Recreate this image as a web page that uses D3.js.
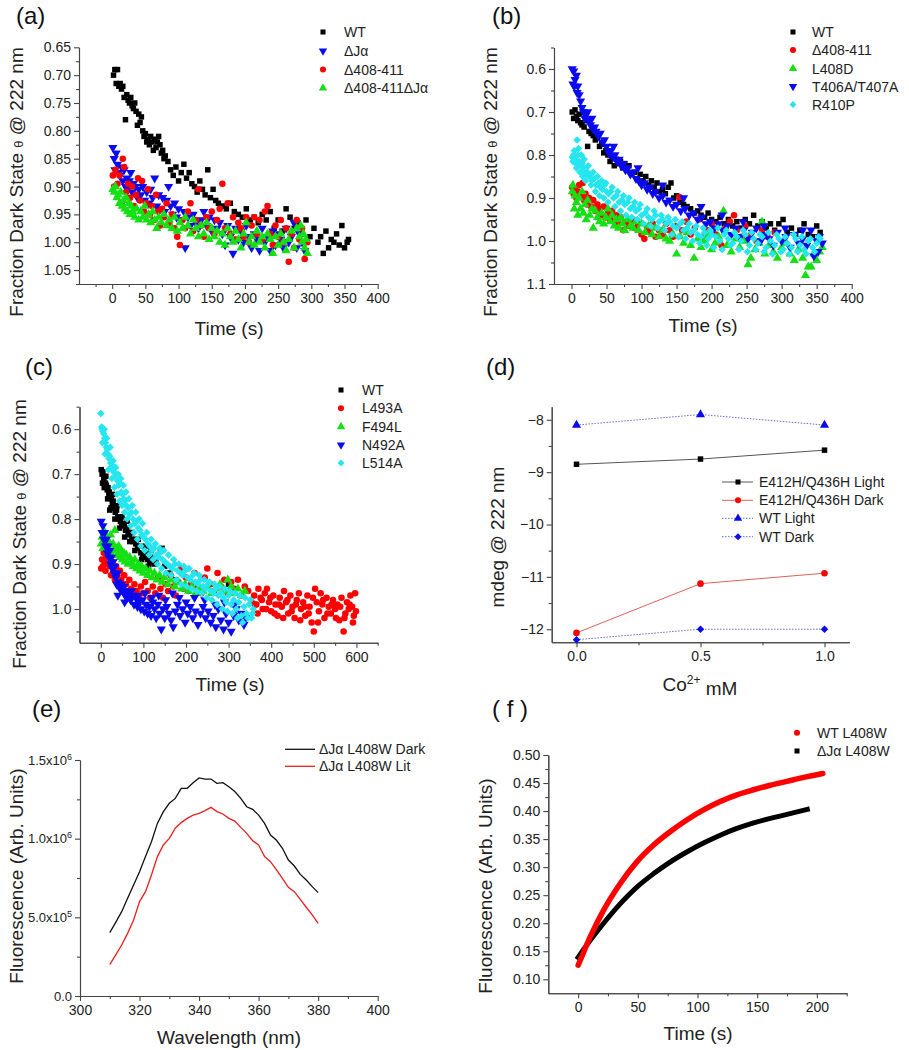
<!DOCTYPE html>
<html>
<head>
<meta charset="utf-8">
<title>Dark state recovery panels</title>
<script src="https://d3js.org/d3.v7.min.js"></script>
<style>
  body { margin: 0; background: #fff; }
  svg { font-family: Arial, "Liberation Sans", sans-serif; }
  .axis path, .axis line { stroke: #444; stroke-width: 1.1px; }
  .axis text { fill: #222; font-size: 14px; font-family: Arial, "Liberation Sans", sans-serif; }
  .title { fill: #222; font-size: 19px; }
  .plabel { fill: #111; font-size: 24px; }
  .legend text { fill: #222; font-size: 14px; }
</style>
</head>
<body>
<svg id="fig" width="909" height="1050"></svg>
<script>
// ---- (a) time (s), fraction dark state ----
const aWT = [[2,0.70],[4,0.69],[6,0.715],[8,0.69],[10,0.72],[12,0.715],[14,0.725],[16,0.72],[18,0.74],[20,0.78],[22,0.735],[24,0.745],[26,0.75],[28,0.74],[30,0.755],[32,0.76],[34,0.75],[36,0.765],[38,0.79],[40,0.77],[42,0.785],[44,0.775],[46,0.80],[48,0.81],[50,0.805],[52,0.82],[54,0.815],[56,0.825],[58,0.81],[60,0.82],[62,0.835],[64,0.815],[66,0.83],[68,0.82],[70,0.81],[72,0.825],[74,0.84],[76,0.835],[78,0.85],[80,0.845],[84,0.855],[88,0.87],[92,0.88],[96,0.865],[100,0.89],[104,0.875],[108,0.86],[112,0.885],[116,0.875],[120,0.895],[124,0.9],[128,0.91],[132,0.89],[136,0.905],[140,0.915],[144,0.87],[148,0.92],[152,0.905],[156,0.925],[160,0.93],[166,0.935],[172,0.94],[178,0.93],[184,0.945],[190,0.95],[196,0.955],[202,0.94],[208,0.96],[214,0.955],[220,0.965],[226,0.95],[232,0.96],[238,0.945],[244,0.975],[250,0.96],[256,0.98],[262,0.94],[268,0.955],[274,0.975],[280,0.965],[286,0.985],[292,0.96],[298,0.99],[304,0.975],[310,1.0],[314,0.99],[318,1.02],[322,0.98],[326,1.01],[330,0.995],[334,1.0],[338,0.985],[342,1.005],[346,0.97],[350,1.01],[354,1.0],[356,0.995]];
const aDJa = [[1,0.83],[3,0.85],[4,0.87],[6,0.84],[8,0.86],[10,0.875],[12,0.88],[14,0.865],[16,0.89],[18,0.87],[20,0.9],[22,0.885],[24,0.905],[26,0.89],[28,0.875],[30,0.91],[32,0.895],[35,0.9],[38,0.92],[40,0.905],[43,0.915],[46,0.9],[49,0.925],[52,0.91],[55,0.93],[58,0.905],[61,0.92],[64,0.885],[67,0.935],[70,0.915],[73,0.94],[76,0.92],[79,0.945],[82,0.925],[85,0.9],[88,0.935],[91,0.95],[94,0.93],[97,0.955],[100,0.94],[104,0.96],[108,0.945],[110,1.01],[114,0.955],[118,0.97],[122,0.95],[126,0.965],[130,0.975],[134,0.96],[138,0.945],[142,0.97],[146,0.955],[150,0.98],[154,0.96],[158,0.975],[162,0.965],[166,0.985],[170,1.005],[174,0.97],[178,0.99],[182,1.02],[186,0.975],[190,0.995],[194,0.98],[198,1.0],[202,0.97],[206,0.99],[210,1.01],[214,0.985],[218,0.995],[222,1.015],[226,0.975],[230,1.0],[234,0.99],[238,1.015],[242,0.98],[246,1.005],[250,0.985],[254,0.995],[258,1.01],[262,0.975],[266,1.0],[270,0.99],[274,0.965],[278,1.01],[282,0.985],[286,1.0],[290,1.015]];
const aD408 = [[1,0.88],[3,0.9],[5,0.87],[8,0.895],[11,0.88],[14,0.93],[16,0.85],[18,0.865],[21,0.91],[24,0.895],[27,0.92],[30,0.9],[33,0.935],[36,0.915],[39,0.885],[42,0.925],[45,0.89],[48,0.945],[51,0.93],[54,0.905],[57,0.95],[60,0.935],[63,0.96],[66,0.915],[69,0.945],[72,0.97],[75,0.94],[78,0.955],[82,0.93],[86,0.965],[90,0.95],[94,0.975],[98,0.99],[102,1.005],[106,0.96],[110,0.975],[114,0.945],[118,0.93],[122,0.98],[126,0.96],[130,0.905],[134,0.97],[138,0.99],[142,0.955],[146,0.975],[150,0.945],[154,0.985],[158,0.96],[162,0.94],[166,0.895],[170,0.975],[174,0.93],[178,0.985],[182,0.955],[186,0.995],[190,0.965],[194,0.975],[198,0.99],[202,0.955],[206,1.0],[210,0.97],[214,0.955],[218,0.985],[222,0.96],[226,0.995],[230,0.945],[234,0.935],[238,0.985],[242,1.005],[246,0.97],[250,0.99],[254,0.96],[258,1.0],[262,0.975],[266,1.035],[270,0.985],[274,1.01],[278,0.96],[282,0.995],[286,0.975],[290,1.03],[294,1.0]];
const aD408DJa = [[1,0.905],[3,0.91],[5,0.9],[7,0.92],[9,0.915],[11,0.93],[13,0.91],[15,0.935],[17,0.925],[19,0.94],[21,0.92],[23,0.945],[25,0.93],[27,0.95],[29,0.935],[31,0.945],[34,0.955],[37,0.94],[40,0.96],[43,0.945],[46,0.955],[49,0.935],[52,0.96],[55,0.95],[58,0.965],[61,0.945],[64,0.96],[67,0.975],[70,0.955],[74,0.965],[78,0.95],[82,0.97],[86,0.96],[90,0.975],[94,0.955],[98,0.98],[102,0.965],[106,0.975],[110,0.955],[114,0.97],[118,0.985],[122,0.96],[126,0.975],[130,0.99],[134,0.97],[138,0.985],[142,0.965],[146,0.995],[150,0.975],[154,0.99],[158,0.98],[162,1.0],[166,0.985],[170,1.005],[174,0.975],[178,0.99],[182,1.0],[186,0.98],[190,0.995],[194,1.01],[198,0.985],[202,0.965],[206,1.0],[210,0.99],[214,1.005],[218,0.98],[222,1.0],[226,0.99],[230,1.01],[234,0.985],[238,0.995],[242,1.02],[246,0.99],[250,1.005],[254,0.985],[258,1.0],[262,1.015],[266,0.995],[270,0.98],[274,1.01],[278,0.975],[282,0.99],[284,0.97],[286,1.0],[288,0.985],[290,1.01],[292,0.995],[294,1.02]];

// ---- (b) ----
const bWT = [[1,0.7],[3,0.715],[5,0.695],[7,0.71],[9,0.72],[11,0.705],[13,0.725],[15,0.73],[18,0.735],[21,0.72],[23,0.78],[25,0.745],[28,0.75],[31,0.755],[34,0.765],[37,0.76],[40,0.78],[43,0.775],[46,0.795],[49,0.79],[52,0.8],[55,0.815],[58,0.805],[61,0.825],[64,0.81],[67,0.82],[70,0.815],[73,0.83],[76,0.82],[79,0.835],[82,0.825],[86,0.845],[90,0.84],[94,0.855],[98,0.845],[102,0.86],[106,0.85],[110,0.87],[114,0.86],[118,0.875],[122,0.865],[126,0.885],[130,0.88],[134,0.89],[138,0.875],[142,0.865],[146,0.9],[150,0.895],[155,0.91],[160,0.915],[165,0.92],[170,0.925],[175,0.935],[180,0.93],[185,0.94],[190,0.945],[195,0.935],[200,0.95],[206,0.955],[212,0.945],[218,0.96],[224,0.95],[230,0.965],[236,0.955],[242,0.97],[248,0.95],[254,0.96],[260,0.94],[266,0.965],[272,0.955],[278,0.97],[284,0.96],[290,0.975],[296,0.96],[302,0.95],[308,0.98],[314,0.97],[320,0.985],[326,0.975],[332,0.96],[338,0.985],[344,0.99],[350,0.965],[355,0.98]];
const bD408 = [[1,0.875],[3,0.89],[5,0.88],[7,0.9],[9,0.885],[11,0.87],[14,0.895],[16,0.865],[18,0.905],[20,0.89],[22,0.915],[25,0.9],[28,0.92],[31,0.905],[34,0.93],[37,0.915],[40,0.925],[43,0.94],[46,0.92],[49,0.945],[52,0.935],[55,0.95],[58,0.93],[61,0.955],[64,0.94],[67,0.96],[70,0.945],[74,0.975],[78,0.955],[82,0.965],[86,0.95],[90,0.97],[95,0.96],[100,0.985],[104,0.995],[108,0.97],[112,0.98],[116,0.96],[120,0.99],[125,0.975],[130,0.985],[135,0.96],[140,0.975],[145,0.99],[150,0.965],[154,0.898],[158,0.975],[164,0.955],[170,0.985],[176,0.97],[182,0.95],[188,0.99],[194,0.975],[200,0.96],[206,0.985],[214,1.01],[220,0.97],[226,0.955],[232,0.94],[236,0.975],[242,0.99],[248,0.965],[256,0.985],[264,1.0],[272,0.975],[280,0.99],[290,0.98]];
const bL408D = [[1,0.885],[2,0.87],[4,0.925],[5,0.895],[7,0.91],[9,0.94],[11,0.9],[13,0.925],[15,0.885],[17,0.935],[19,0.915],[21,0.95],[23,0.905],[26,0.94],[29,0.925],[31,0.97],[34,0.93],[37,0.945],[40,0.955],[43,0.935],[46,0.96],[49,0.945],[52,0.925],[55,0.955],[58,0.94],[61,0.965],[64,0.95],[67,0.97],[70,0.945],[73,0.96],[76,0.975],[80,0.95],[84,0.965],[88,0.97],[92,0.955],[96,0.975],[100,0.96],[105,0.98],[110,0.965],[115,0.985],[120,0.97],[125,0.99],[130,0.975],[135,0.995],[140,1.0],[145,0.985],[150,1.03],[155,0.99],[160,1.005],[165,0.98],[170,1.01],[175,1.04],[180,0.995],[185,1.015],[190,1.0],[195,0.985],[200,1.02],[205,1.005],[210,0.99],[217,0.93],[222,1.01],[228,1.025],[234,0.995],[240,1.015],[246,1.0],[252,1.055],[256,1.04],[262,1.02],[268,1.005],[272,0.955],[276,1.03],[282,1.01],[288,1.025],[294,1.04],[300,1.015],[306,1.005],[312,1.03],[318,1.045],[324,1.02],[330,1.04],[334,1.08],[338,1.06],[342,1.06],[346,1.03],[350,1.045],[354,1.025],[358,1.015]];
const bT406 = [[1,0.6],[2,0.635],[3,0.605],[4,0.64],[5,0.625],[7,0.615],[8,0.655],[9,0.64],[11,0.66],[13,0.675],[15,0.69],[17,0.7],[19,0.715],[21,0.705],[23,0.7],[25,0.72],[27,0.73],[29,0.715],[31,0.74],[33,0.735],[35,0.745],[38,0.755],[41,0.75],[44,0.77],[47,0.765],[50,0.78],[53,0.795],[56,0.79],[59,0.805],[62,0.8],[65,0.815],[68,0.81],[71,0.825],[74,0.82],[77,0.835],[80,0.83],[84,0.845],[88,0.84],[92,0.855],[96,0.86],[100,0.87],[104,0.865],[108,0.88],[112,0.875],[116,0.89],[120,0.885],[125,0.9],[130,0.895],[135,0.91],[140,0.905],[145,0.92],[150,0.915],[156,0.93],[162,0.925],[168,0.94],[174,0.935],[180,0.95],[186,0.945],[192,0.96],[198,0.955],[204,0.97],[210,0.96],[216,0.975],[222,0.965],[228,0.985],[234,0.97],[240,0.99],[246,0.975],[252,0.995],[258,0.98],[264,0.97],[270,1.0],[276,0.985],[282,0.995],[288,1.01],[294,0.98],[300,1.0],[306,0.99],[312,1.015],[318,0.985],[324,1.005],[330,0.995],[336,1.01],[342,0.975],[346,1.035],[350,1.0],[354,0.99],[358,1.005],
  [60,0.78],[95,0.83],[130,0.87],[160,0.9],[185,0.92],[215,0.94],[245,0.955],[275,0.965],[305,0.97],[330,0.975],[352,1.025]];
const bR410P = [[1,0.805],[2,0.815],[3,0.8],[5,0.81],[6,0.82],[8,0.765],[9,0.8],[11,0.815],[13,0.825],[15,0.82],[17,0.835],[19,0.83],[21,0.845],[23,0.84],[25,0.85],[27,0.845],[29,0.86],[32,0.855],[35,0.87],[38,0.865],[41,0.875],[44,0.88],[47,0.87],[50,0.885],[53,0.89],[56,0.885],[60,0.9],[64,0.895],[68,0.91],[72,0.905],[76,0.915],[80,0.91],[84,0.925],[88,0.92],[92,0.93],[96,0.925],[100,0.94],[105,0.935],[110,0.945],[115,0.95],[120,0.94],[125,0.955],[130,0.95],[135,0.96],[140,0.955],[145,0.965],[150,0.97],[155,0.96],[160,0.975],[165,0.97],[170,0.98],[175,0.975],[180,0.985],[185,0.99],[190,0.98],[195,0.995],[200,0.985],[206,0.99],[212,1.0],[218,0.985],[224,0.995],[230,1.005],[236,0.99],[242,1.0],[248,0.985],[254,1.01],[260,0.995],[266,1.005],[272,0.99],[278,1.015],[284,1.0],[290,1.01],[296,0.995],[302,1.02],[308,1.005],[314,1.015],[320,0.995],[326,1.01],[332,1.02],[338,1.0],[344,1.015],[350,1.005],[355,0.995],
  [4,0.79],[7,0.83],[10,0.785],[12,0.84],[14,0.8],[16,0.85],[18,0.81],[20,0.86],[24,0.825],[28,0.87],[31,0.84],[34,0.885],[37,0.85],[40,0.895],[43,0.86],[46,0.9],[49,0.865],[52,0.91],[58,0.875],[62,0.92],[66,0.885],[70,0.93],[74,0.895],[78,0.94],[82,0.9],[86,0.945],[90,0.91],[94,0.95],[98,0.915],[103,0.96],[108,0.925],[113,0.965],[118,0.93],[123,0.97],[128,0.94],[133,0.975],[138,0.945],[143,0.985],[148,0.95],[153,0.99],[158,0.955],[163,0.995],[168,0.96],[173,1.0],[178,0.965],[183,1.005],[188,0.97],[193,1.01],[198,0.975],[203,1.015],[209,0.97],[215,1.02],[221,0.975],[227,1.01],[233,0.98],[239,1.02],[245,0.975],[251,1.025],[257,0.98],[263,1.02],[269,0.985],[275,1.025],[281,0.98],[287,1.03],[293,0.985],[299,1.025],[305,0.99],[311,1.03],[317,0.985],[323,1.025],[329,0.99],[335,1.03],[341,0.995],[347,1.025],[353,0.99]];

// ---- (c) ----
const cWT = [[1,0.69],[3,0.7],[5,0.695],[7,0.71],[9,0.705],[11,0.72],[13,0.725],[15,0.735],[17,0.73],[19,0.745],[21,0.78],[23,0.75],[25,0.755],[27,0.765],[29,0.76],[31,0.775],[34,0.785],[37,0.78],[40,0.795],[43,0.8],[46,0.805],[49,0.81],[52,0.815],[55,0.81],[58,0.825],[61,0.82],[64,0.83],[67,0.835],[70,0.83],[73,0.845],[76,0.85],[79,0.845],[82,0.855],[86,0.865],[90,0.86],[94,0.875],[98,0.88],[102,0.885],[106,0.875],[110,0.89],[115,0.895],[120,0.885],[125,0.9],[130,0.895],[135,0.88],[140,0.87],[144,0.865],[150,0.905],[160,0.92],[175,0.935],[300,0.945],
  [4,0.72],[8,0.73],[12,0.705],[16,0.755],[20,0.74],[24,0.775],[28,0.745],[33,0.8],[38,0.77],[44,0.82],[50,0.795],[56,0.84],[62,0.805],[68,0.85],[74,0.83],[80,0.87],[88,0.845],[96,0.89],[104,0.86],[112,0.905],[118,0.87]];
const cL493A = [[1,0.91],[3,0.89],[5,0.905],[7,0.875],[9,0.895],[11,0.915],[13,0.885],[15,0.9],[18,0.87],[21,0.905],[24,0.925],[27,0.895],[30,0.915],[33,0.935],[36,0.905],[39,0.925],[42,0.945],[45,0.915],[48,0.935],[51,0.955],[55,0.925],[59,0.945],[63,0.96],[67,0.935],[71,0.955],[75,0.97],[79,0.945],[84,0.96],[89,0.975],[94,0.95],[99,0.965],[104,0.94],[110,0.96],[116,0.975],[122,0.95],[128,0.965],[134,0.93],[140,0.955],[146,0.975],[152,0.945],[158,0.96],[164,0.925],[170,0.95],[176,0.97],[182,0.94],[188,0.91],[194,0.955],[200,0.93],[206,0.96],[212,0.945],[220,0.92],[228,0.95],[236,0.965],[244,0.93],[250,0.91],[258,0.945],[266,0.96],[274,0.92],[282,0.95],[290,0.935],[298,0.965],[306,0.94],[314,0.955],[322,0.935],[330,0.97],[338,0.95],[346,0.96],[354,0.985],[360,0.97],[365,0.99],[370,0.955],[375,0.975],[380,1.0],[385,0.965],[390,0.955],[395,0.985],[400,1.005],[405,0.97],[410,0.99],[415,1.015],[420,0.975],[425,0.995],[430,0.96],[435,0.985],[440,1.01],[445,0.97],[450,0.995],[455,1.02],[460,0.98],[465,0.965],[470,1.0],[475,0.985],[480,1.015],[485,0.97],[490,0.995],[495,1.03],[500,1.05],[503,0.955],[507,0.985],[512,1.005],[516,0.965],[520,0.99],[525,1.02],[530,0.975],[535,0.995],[540,1.01],[545,0.98],[550,1.0],[555,0.99],[560,1.025],[565,0.975],[570,1.05],[574,1.01],[578,0.985],[582,1.0],[586,0.97],[590,0.995],[594,1.015],[597,0.965],[599,1.005],
  [362,0.99],[368,1.01],[378,0.98],[388,1.0],[398,0.975],[408,1.01],[418,0.99],[428,1.02],[438,0.98],[448,1.005],[458,0.99],[468,1.025],[478,0.995],[488,1.01],[498,0.975],[510,1.03],[522,0.98],[532,1.01],[542,0.99],[552,1.02],[562,0.995],[572,1.02],[584,0.99],[592,1.03]];
const cF494L = [[1,0.855],[3,0.84],[5,0.865],[7,0.825],[9,0.85],[11,0.835],[13,0.86],[15,0.845],[17,0.87],[19,0.85],[21,0.875],[23,0.835],[25,0.86],[27,0.88],[29,0.855],[31,0.87],[33,0.825],[36,0.865],[39,0.88],[42,0.86],[45,0.885],[48,0.87],[51,0.89],[54,0.875],[57,0.895],[60,0.88],[64,0.9],[68,0.885],[72,0.895],[76,0.905],[80,0.89],[84,0.91],[88,0.9],[92,0.915],[96,0.905],[100,0.92],[105,0.91],[110,0.925],[115,0.915],[120,0.93],[126,0.92],[132,0.935],[138,0.925],[144,0.94],[150,0.93],[158,0.945],[166,0.935],[174,0.95],[182,0.94],[190,0.955],[198,0.945],[206,0.96],[214,0.95],[222,0.965],[230,0.955],[240,0.96],[250,0.95],[260,0.965],[270,0.955],[280,0.945],[290,0.96],[298,0.935],[306,0.95],[314,0.965],[322,0.955],[330,0.97],[338,0.96]];
const cN492A = [[1,0.805],[3,0.83],[5,0.815],[7,0.845],[9,0.83],[11,0.86],[13,0.845],[15,0.875],[17,0.86],[19,0.885],[21,0.87],[23,0.9],[25,0.885],[27,0.91],[29,0.895],[31,0.92],[33,0.905],[35,0.93],[37,0.945],[39,0.92],[42,0.94],[45,0.955],[48,0.945],[51,0.96],[54,0.95],[57,0.97],[60,0.96],[63,0.975],[66,0.965],[70,0.98],[74,0.97],[78,0.99],[82,0.975],[86,0.995],[90,0.985],[94,1.0],[98,0.98],[102,1.005],[106,0.99],[110,1.01],[114,0.995],[118,1.015],[122,0.985],[126,1.0],[130,1.02],[134,0.99],[138,1.01],[142,1.045],[146,1.0],[150,1.02],[155,0.995],[160,1.01],[165,1.025],[170,1.04],[175,1.005],[180,0.99],[186,1.015],[192,1.0],[198,1.03],[204,1.01],[210,0.995],[216,1.02],[222,1.005],[228,1.035],[234,1.01],[240,0.995],[246,1.02],[252,1.005],[258,1.03],[264,1.015],[270,1.04],[276,1.0],[282,1.025],[288,1.045],[294,1.01],[300,1.03],[306,1.05],[312,1.015],[318,1.0],[324,1.025],[330,1.01],[336,1.035],[340,1.02],
  [40,0.97],[56,0.985],[72,0.96],[88,0.97],[104,0.965],[120,0.975],[136,0.97],[152,0.98],[168,0.965],[184,0.975],[200,0.985],[220,0.975],[244,0.98],[268,0.99],[290,0.985],[314,0.99]];
const cL514A = [[0,0.565],[2,0.595],[3,0.6],[5,0.605],[7,0.61],[9,0.62],[11,0.63],[13,0.64],[15,0.645],[17,0.655],[19,0.665],[21,0.66],[23,0.675],[25,0.685],[27,0.68],[30,0.695],[33,0.705],[36,0.7],[39,0.715],[42,0.725],[45,0.72],[48,0.74],[51,0.745],[54,0.755],[57,0.76],[60,0.77],[64,0.775],[68,0.79],[72,0.785],[76,0.8],[80,0.81],[84,0.805],[88,0.82],[92,0.825],[96,0.835],[100,0.84],[105,0.845],[110,0.855],[115,0.86],[120,0.87],[125,0.865],[130,0.88],[135,0.885],[140,0.875],[145,0.89],[150,0.895],[156,0.9],[162,0.905],[168,0.91],[174,0.9],[180,0.915],[186,0.92],[192,0.925],[198,0.915],[204,0.93],[210,0.935],[216,0.925],[222,0.94],[228,0.945],[234,0.935],[240,0.95],[246,0.955],[252,0.945],[258,0.96],[264,0.965],[270,0.955],[276,0.97],[282,0.965],[288,0.975],[294,0.985],[300,0.97],[306,0.99],[312,0.98],[318,1.0],[324,0.985],[330,1.015],[336,0.995],[342,1.01],[348,0.99],[354,1.02],[358,1.0],
  [4,0.63],[8,0.6],[10,0.655],[14,0.62],[18,0.69],[22,0.64],[26,0.71],[29,0.67],[32,0.73],[35,0.685],[38,0.745],[41,0.7],[44,0.76],[47,0.71],[50,0.77],[53,0.725],[56,0.785],[59,0.74],[62,0.8],[66,0.755],[70,0.815],[74,0.77],[78,0.83],[82,0.785],[86,0.845],[90,0.8],[94,0.86],[98,0.81],[103,0.87],[108,0.83],[113,0.88],[118,0.845],[123,0.89],[128,0.855],[133,0.9],[138,0.865],[143,0.91],[148,0.87],[153,0.92],[159,0.88],[165,0.925],[171,0.89],[177,0.935],[183,0.9],[189,0.945],[195,0.905],[201,0.95],[207,0.91],[213,0.955],[219,0.92],[225,0.96],[231,0.925],[237,0.965],[243,0.935],[249,0.975],[255,0.94],[261,0.98],[267,0.945],[273,0.99],[279,0.95],[285,1.0],[291,0.955],[297,1.005],[303,0.96],[309,1.01],[315,0.965],[321,1.02],[327,0.97],[333,1.03],[339,0.975],[345,1.02],[351,0.98],[356,1.01]];

// ---- (d) Co2+ mM, mdeg @ 222 nm ----
const dConc = [0, 0.5, 1.0];
const dE412Light = [-8.85, -8.75, -8.58];
const dE412Dark = [-12.07, -11.13, -10.93];
const dWTLight = [-8.1, -7.9, -8.1];
const dWTDark = [-12.2, -12.0, -12.0];

// ---- (e) wavelength (nm), fluorescence ----
const eWave = [310,312,314,316,318,320,322,324,326,328,330,332,334,336,338,340,342,344,346,348,350,352,354,356,358,360,362,364,366,368,370,372,374,376,378,380];
const eDark = [4.03e5,4.68e5,5.36e5,6.21e5,7.05e5,7.9e5,8.86e5,9.81e5,1.097e6,1.172e6,1.225e6,1.256e6,1.32e6,1.32e6,1.356e6,1.386e6,1.379e6,1.379e6,1.352e6,1.356e6,1.33e6,1.3e6,1.256e6,1.203e6,1.186e6,1.15e6,1.097e6,1.023e6,9.9e5,9.39e5,8.64e5,8.26e5,7.73e5,7.37e5,6.95e5,6.57e5];
const eLit = [1.99e5,2.61e5,3.24e5,3.98e5,4.83e5,6.0e5,6.63e5,7.69e5,8.86e5,9.6e5,1.002e6,1.066e6,1.102e6,1.129e6,1.15e6,1.161e6,1.178e6,1.199e6,1.172e6,1.157e6,1.129e6,1.112e6,1.072e6,1.034e6,9.87e5,9.6e5,8.86e5,8.54e5,8.01e5,7.48e5,6.91e5,6.63e5,6.14e5,5.64e5,5.15e5,4.62e5];

// ---- (f) time (s), fluorescence ----
const fWT = [[0,0.125],[1,0.13],[10,0.175],[21,0.222],[35,0.27],[49,0.309],[63,0.339],[77,0.363],[91,0.384],[105,0.402],[119,0.417],[133,0.429],[147,0.438],[161,0.446],[175,0.453],[189,0.46],[205,0.467]];
const fDJa = [[0,0.139],[10,0.169],[21,0.199],[35,0.234],[49,0.264],[63,0.288],[77,0.309],[91,0.327],[105,0.343],[119,0.357],[133,0.369],[147,0.379],[161,0.387],[175,0.394],[192,0.403]];

// tick values
const xTicksAB = [0,50,100,150,200,250,300,350,400];
const yTicksA = [0.65,0.70,0.75,0.80,0.85,0.90,0.95,1.00,1.05];
const yTicksB = [0.6,0.7,0.8,0.9,1.0,1.1];
const xTicksC = [0,100,200,300,400,500,600];
const yTicksC = [0.6,0.7,0.8,0.9,1.0];
const xTicksD = [0,0.5,1.0];
const yTicksD = [-12,-11,-10,-9,-8];
const xTicksE = [300,320,340,360,380,400];
const yTicksE = [0,5e5,1e6,1.5e6];
const xTicksF = [0,50,100,150,200];
const yTicksF = [0.10,0.15,0.20,0.25,0.30,0.35,0.40,0.45,0.50];

const svg = d3.select("#fig");

const BLACK = "#000", RED = "#ff0000", GREEN = "#14e014", BLUE = "#0a0af0", CYAN = "#25e6ee";
const SQ = {type: d3.symbolSquare, size: 30},
      CI = {type: d3.symbolCircle, size: 34},
      TU = {type: d3.symbolTriangle, size: 36},
      TD = {type: d3.symbolTriangle, size: 36, rot: 180},
      DI = {type: d3.symbolSquare, size: 28, rot: 45};

function panel(p) {
  const x = d3.scaleLinear().domain(p.xDom).range([p.left, p.right]);
  const y = d3.scaleLinear().domain(p.yDom).range(p.yDown ? [p.top, p.bottom] : [p.bottom, p.top]);
  // minor ticks
  svg.append("g").attr("class", "axis").attr("transform", `translate(0,${p.bottom})`)
    .call(d3.axisBottom(x).tickValues(p.xMinor).tickSize(3).tickSizeOuter(0).tickFormat(""));
  svg.append("g").attr("class", "axis").attr("transform", `translate(${p.left},0)`)
    .call(d3.axisLeft(y).tickValues(p.yMinor).tickSize(3).tickSizeOuter(0).tickFormat(""));
  // major ticks
  svg.append("g").attr("class", "axis").attr("transform", `translate(0,${p.bottom})`)
    .call(d3.axisBottom(x).tickValues(p.xMajor).tickSize(5).tickSizeOuter(0).tickPadding(4).tickFormat(p.xFmt));
  const ya = svg.append("g").attr("class", "axis").attr("transform", `translate(${p.left},0)`)
    .call(d3.axisLeft(y).tickValues(p.yMajor).tickSize(5).tickSizeOuter(0).tickPadding(3).tickFormat(p.yFmt));
  return {x, y, ya};
}

function scatter(sc, data, shape, color) {
  svg.append("g").selectAll("path").data(data).join("path")
    .attr("transform", d => `translate(${sc.x(d[0])},${sc.y(d[1])})` + (shape.rot ? ` rotate(${shape.rot})` : ""))
    .attr("d", d3.symbol().type(shape.type).size(shape.size))
    .attr("fill", color);
}

function marker(g, cx, cy, shape, color) {
  g.append("path")
    .attr("transform", `translate(${cx},${cy})` + (shape.rot ? ` rotate(${shape.rot})` : ""))
    .attr("d", d3.symbol().type(shape.type).size(shape.size * 0.85))
    .attr("fill", color);
}

function symLegend(sx, tx, rows, items) {
  const g = svg.append("g").attr("class", "legend");
  items.forEach((it, i) => {
    marker(g, sx, rows[i], it.shape, it.color);
    g.append("text").attr("x", tx).attr("y", rows[i]).attr("dy", "0.36em").text(it.label);
  });
}

function label(txt, x, y) {
  svg.append("text").attr("class", "plabel").attr("x", x).attr("y", y).text(txt);
}

function xTitle(txt, x, y) {
  svg.append("text").attr("class", "title").attr("x", x).attr("y", y)
    .attr("dy", "0.35em").attr("text-anchor", "middle").text(txt);
}

function yTitle(cx, cy, parts) {
  const t = svg.append("text").attr("class", "title")
    .attr("transform", `translate(${cx},${cy}) rotate(-90)`)
    .attr("dy", "0.35em").attr("text-anchor", "middle");
  parts.forEach(pt => {
    const s = t.append("tspan").text(pt.t);
    if (pt.size) s.style("font-size", pt.size + "px");
  });
}

const fracTitle = [{t: "Fraction Dark State "}, {t: "θ", size: 13}, {t: " @ 222 nm"}];
const f2 = d3.format(".2f"), f1 = d3.format(".1f"), fi = d3.format("d");

// ---------- (a) ----------
const A = panel({left: 79, right: 377.7, top: 47.3, bottom: 284, xDom: [-50, 400], yDom: [0.65, 1.075], yDown: true,
  xMajor: xTicksAB, xMinor: [-25,25,75,125,175,225,275,325,375], yMajor: yTicksA,
  yMinor: [0.675,0.725,0.775,0.825,0.875,0.925,0.975,1.025,1.075], xFmt: fi, yFmt: f2});
scatter(A, aWT, SQ, BLACK);
scatter(A, aDJa, TD, BLUE);
scatter(A, aD408, CI, RED);
scatter(A, aD408DJa, TU, GREEN);
symLegend(323, 344, [32, 51, 69.5, 88], [
  {shape: SQ, color: BLACK, label: "WT"},
  {shape: TD, color: BLUE, label: "ΔJα"},
  {shape: CI, color: RED, label: "Δ408-411"},
  {shape: TU, color: GREEN, label: "Δ408-411ΔJα"}]);
label("(a)", 16, 24);
xTitle("Time (s)", 229, 328);
yTitle(16, 182, fracTitle);

// ---------- (b) ----------
const B = panel({left: 554, right: 851.7, top: 47.5, bottom: 284, xDom: [-25, 400], yDom: [0.55, 1.1], yDown: true,
  xMajor: xTicksAB, xMinor: [25,75,125,175,225,275,325,375], yMajor: yTicksB,
  yMinor: [0.55,0.65,0.75,0.85,0.95,1.05], xFmt: fi, yFmt: f1});
scatter(B, bWT, SQ, BLACK);
scatter(B, bD408, CI, RED);
scatter(B, bL408D, TU, GREEN);
scatter(B, bT406, TD, BLUE);
scatter(B, bR410P, DI, CYAN);
symLegend(793, 812, [32, 50, 68.5, 86.5, 104.5], [
  {shape: SQ, color: BLACK, label: "WT"},
  {shape: CI, color: RED, label: "Δ408-411"},
  {shape: TU, color: GREEN, label: "L408D"},
  {shape: TD, color: BLUE, label: "T406A/T407A"},
  {shape: DI, color: CYAN, label: "R410P"}]);
label("(b)", 492, 24);
xTitle("Time (s)", 703, 325);
yTitle(490, 182, fracTitle);

// ---------- (c) ----------
const C = panel({left: 79.5, right: 377.7, top: 406.7, bottom: 642.7, xDom: [-50, 650], yDom: [0.55, 1.075], yDown: true,
  xMajor: xTicksC, xMinor: [50,150,250,350,450,550,650], yMajor: yTicksC,
  yMinor: [0.55,0.65,0.75,0.85,0.95,1.05], xFmt: fi, yFmt: f1});
scatter(C, cWT, SQ, BLACK);
scatter(C, cL493A, CI, RED);
scatter(C, cF494L, TU, GREEN);
scatter(C, cN492A, TD, BLUE);
scatter(C, cL514A, DI, CYAN);
symLegend(341, 362, [390, 408.3, 426.7, 445, 463], [
  {shape: SQ, color: BLACK, label: "WT"},
  {shape: CI, color: RED, label: "L493A"},
  {shape: TU, color: GREEN, label: "F494L"},
  {shape: TD, color: BLUE, label: "N492A"},
  {shape: DI, color: CYAN, label: "L514A"}]);
label("(c)", 25, 375);
xTitle("Time (s)", 230, 684);
yTitle(19, 534, fracTitle);

// ---------- (d) ----------
const D = panel({left: 551.7, right: 849.3, top: 406.7, bottom: 642.3, xDom: [-0.1, 1.1], yDom: [-12.25, -7.75], yDown: false,
  xMajor: xTicksD, xMinor: [0.25, 0.75], yMajor: yTicksD,
  yMinor: [-11.5,-10.5,-9.5,-8.5], xFmt: f1, yFmt: fi});
const dSeries = [
  {vals: dE412Light, shape: SQ, color: BLACK, line: "#555", dash: null, label: "E412H/Q436H Light"},
  {vals: dE412Dark, shape: CI, color: RED, line: "#e06060", dash: null, label: "E412H/Q436H Dark"},
  {vals: dWTLight, shape: TU, color: BLUE, line: "#6a6ad8", dash: "1.5,1.5", label: "WT Light"},
  {vals: dWTDark, shape: DI, color: BLUE, line: "#6a6ad8", dash: "1.5,1.5", label: "WT Dark"}];
const dLine = d3.line().x((d, i) => D.x(dConc[i])).y(d => D.y(d));
dSeries.forEach(s => {
  svg.append("path").attr("d", dLine(s.vals)).attr("fill", "none")
    .attr("stroke", s.line).attr("stroke-width", 1).attr("stroke-dasharray", s.dash);
  scatter(D, s.vals.map((v, i) => [dConc[i], v]), s.shape, s.color);
});
{
  const g = svg.append("g").attr("class", "legend");
  const rows = [482, 500.3, 518.3, 536.7];
  dSeries.forEach((s, i) => {
    g.append("line").attr("x1", 722).attr("x2", 753).attr("y1", rows[i]).attr("y2", rows[i])
      .attr("stroke", s.line).attr("stroke-width", 1).attr("stroke-dasharray", s.dash);
    marker(g, 738, rows[i], s.shape, s.color);
    g.append("text").attr("x", 759).attr("y", rows[i]).attr("dy", "0.36em").text(s.label);
  });
}
label("(d)", 486, 375);
{
  const t = svg.append("text").attr("class", "title").attr("x", 700).attr("y", 684)
    .attr("dy", "0.35em").attr("text-anchor", "middle");
  t.append("tspan").text("Co");
  t.append("tspan").attr("dy", "-0.55em").style("font-size", "12px").text("2+");
  t.append("tspan").attr("dy", "0.55em").text(" mM");
}
yTitle(497, 537, [{t: "mdeg @ 222 nm"}]);

// ---------- (e) ----------
const E = panel({left: 80, right: 377.7, top: 760, bottom: 996, xDom: [300, 400], yDom: [0, 1.5e6], yDown: false,
  xMajor: xTicksE, xMinor: [310,330,350,370,390], yMajor: yTicksE,
  yMinor: [2.5e5,7.5e5,1.25e6], xFmt: fi, yFmt: () => ""});
E.ya.selectAll(".tick").each(function(d) {
  const t = d3.select(this).append("text").attr("x", -8).attr("dy", "0.32em")
    .attr("text-anchor", "end").attr("fill", "#222").style("font-size", "13px");
  if (d === 0) { t.text("0.0"); return; }
  const ex = Math.floor(Math.log10(d) + 1e-9);
  t.append("tspan").text(f1(d / Math.pow(10, ex)) + "x10");
  t.append("tspan").attr("dy", "-0.55em").style("font-size", "9px").text(ex);
});
const eLine = d3.line().x((d, i) => E.x(eWave[i])).y(d => E.y(d));
svg.append("path").attr("d", eLine(eDark)).attr("fill", "none").attr("stroke", "#111").attr("stroke-width", 1.3);
svg.append("path").attr("d", eLine(eLit)).attr("fill", "none").attr("stroke", "#e8201c").attr("stroke-width", 1.3);
{
  const g = svg.append("g").attr("class", "legend");
  [["ΔJα L408W Dark", "#111", 749.3], ["ΔJα L408W Lit", "#e8201c", 766.3]].forEach(r => {
    g.append("line").attr("x1", 285).attr("x2", 315).attr("y1", r[2]).attr("y2", r[2])
      .attr("stroke", r[1]).attr("stroke-width", 1.3);
    g.append("text").attr("x", 319).attr("y", r[2]).attr("dy", "0.36em").text(r[0]);
  });
}
label("(e)", 32, 717);
xTitle("Wavelength (nm)", 229, 1037);
yTitle(16, 876, [{t: "Fluorescence (Arb. Units)"}]);

// ---------- (f) ----------
const F = panel({left: 548.3, right: 846.7, top: 755, bottom: 993.3, xDom: [-25, 225], yDom: [0.075, 0.5], yDown: false,
  xMajor: xTicksF, xMinor: [25,75,125,175,225], yMajor: yTicksF,
  yMinor: [0.125,0.175,0.225,0.275,0.325,0.375,0.425,0.475], xFmt: fi, yFmt: f2});
const fLine = d3.line().x(d => F.x(d[0])).y(d => F.y(d[1])).curve(d3.curveMonotoneX);
svg.append("path").attr("d", fLine(fDJa)).attr("fill", "none").attr("stroke", BLACK)
  .attr("stroke-width", 5).attr("stroke-linecap", "square");
svg.append("path").attr("d", fLine(fWT)).attr("fill", "none").attr("stroke", RED)
  .attr("stroke-width", 5.5).attr("stroke-linecap", "round");
symLegend(797, 817, [732.7, 751], [
  {shape: CI, color: RED, label: "WT L408W"},
  {shape: SQ, color: BLACK, label: "ΔJα L408W"}]);
label("( f )", 492, 717);
xTitle("Time (s)", 698, 1033);
yTitle(485, 886, [{t: "Fluorescence (Arb. Units)"}]);
</script>
</body>
</html>
